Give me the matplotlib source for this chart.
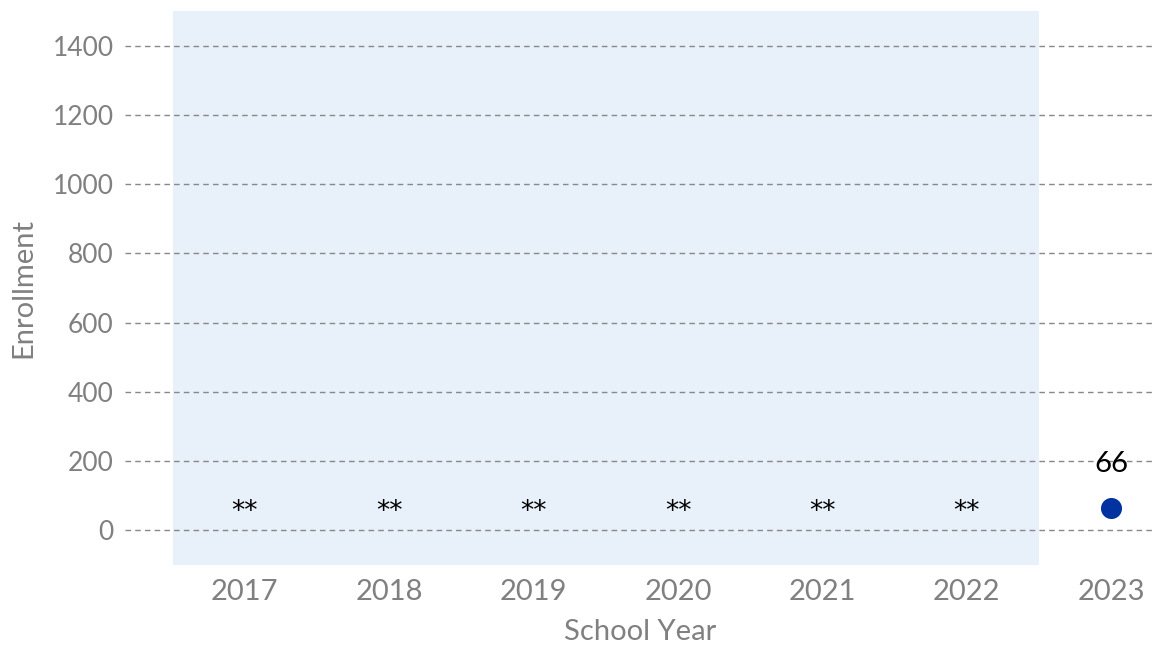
import matplotlib
matplotlib.use("Agg")
import matplotlib.pyplot as plt

years = ["2017", "2018", "2019", "2020", "2021", "2022", "2023"]
enrollment = [None, None, None, None, None, None, 66]
suppressed_label = "**"
yticks = [0, 200, 400, 600, 800, 1000, 1200, 1400]

plt.rcParams['font.family'] = ['Lato', 'DejaVu Sans']
gray = '#808080'

fig = plt.figure(figsize=(11.56, 6.48), dpi=100)
ax = fig.add_axes([0.108, 0.128, 0.892, 0.855])

x = list(range(len(years)))
ax.axvspan(-0.5, 5.5, color='#e8f0f9', zorder=0, lw=0)

for yv in yticks:
    ax.axhline(yv, color='#888888', ls=(0, (4, 3)), lw=1, zorder=1)

for i, v in enumerate(enrollment):
    if v is None:
        ax.text(i, 52, suppressed_label, ha='center', va='center', fontsize=19,
                color='black', zorder=3, family=['DejaVu Sans'])
    else:
        ax.scatter([i], [v], s=230, color='#0033a0', zorder=4, lw=0)
        ax.annotate(str(v), (i, v), xytext=(0, 22), textcoords='offset points',
                    ha='center', va='bottom', fontsize=21, color='black')

ax.set_xlim(-0.83, 6.31)
ax.set_ylim(-100, 1500)
ax.set_xticks(x)
ax.set_xticklabels(years)
ax.set_yticks(yticks)
ax.tick_params(axis='x', labelsize=21, colors=gray, length=0, pad=10)
ax.tick_params(axis='y', labelsize=19, colors=gray, length=0, pad=8)
ax.set_xlabel("School Year", fontsize=21, color=gray, labelpad=10)
ax.set_ylabel("Enrollment", fontsize=21, color=gray, labelpad=12)
for s in ax.spines.values():
    s.set_visible(False)
ax.set_facecolor('none')

fig.savefig("out.png", dpi=100)
